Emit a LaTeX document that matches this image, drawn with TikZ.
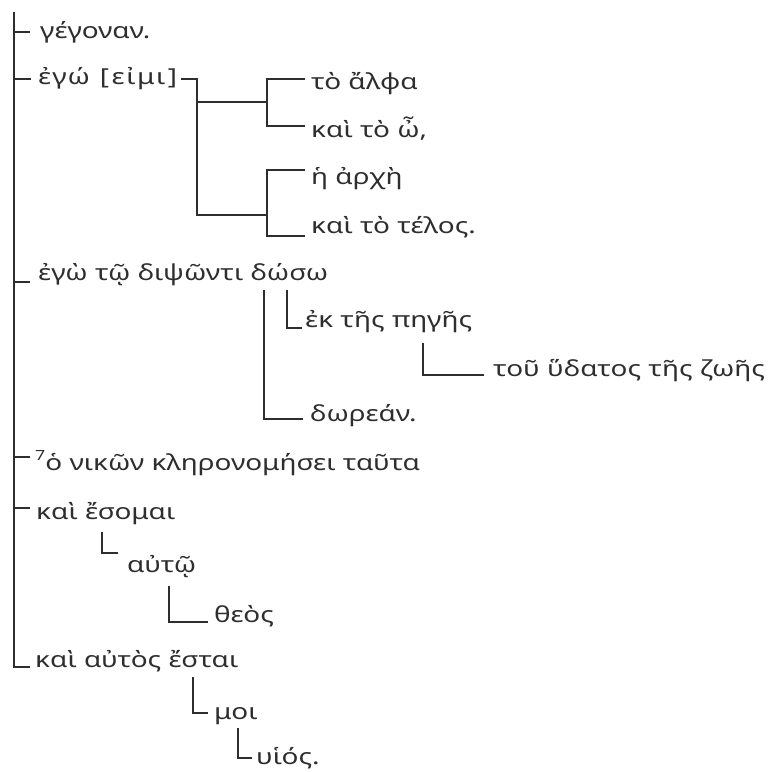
\documentclass[tikz,border=0pt]{standalone}
\usepackage{fontspec}
\newfontfamily\gk[FakeStretch=1.27]{Noto Sans}
\begin{document}
\begin{tikzpicture}[x=1pt,y=-1pt,
  lbl/.style={anchor=base west, inner sep=0pt, text=black!82, font=\gk\fontsize{22}{26}\selectfont},
  ln/.style={line width=1.3pt, draw=black!82}]
\useasboundingbox (0,0) rectangle (773,771);
% text nodes
\node[lbl] (t1) at (40,38) {γέγοναν.};
\node[lbl] (t2) at (38,84) {ἐ\kern1ptγ\kern1ptώ\hspace{0.45em}[\kern2.5ptε\kern1.5ptἰ\kern1.5ptμ\kern1.5ptι\kern2.5pt]};
\node[lbl] (t3) at (311,89) {τὸ ἄλφα};
\node[lbl] (t4) at (311,137) {καὶ τὸ ὦ,};
\node[lbl] (t5) at (311,184) {ἡ ἀρχὴ};
\node[lbl] (t6) at (311,233) {καὶ τὸ τέλος.};
\node[lbl] (t7) at (38,280) {ἐγὼ τῷ διψῶντι δώσω};
\node[lbl] (t8) at (305,327) {ἐκ τῆς πηγῆς};
\node[lbl] (t9) at (493,376) {τοῦ ὕδατος τῆς ζωῆς};
\node[lbl] (t10) at (310,421) {δωρεάν.};
\node[lbl] (t11) at (35,470) {\raisebox{0.42em}{\fontsize{14}{15}\selectfont 7}ὁ νικῶν κληρονομήσει ταῦτα};
\node[lbl] (t12) at (36,519) {καὶ ἔσομαι};
\node[lbl] (t13) at (127,572) {αὐτῷ};
\node[lbl] (t14) at (214,622) {θεὸς};
\node[lbl] (t15) at (35,667) {καὶ αὐτὸς ἔσται};
\node[lbl] (t16) at (214,719) {μοι};
\node[lbl] (t17) at (256,764) {υἱός.};
% coordinates
\coordinate (trT) at (14,12);
\coordinate (trB) at (14,667);
\coordinate (k1) at (30,32);
\coordinate (k2) at (31,79);
\coordinate (k7) at (30,282);
\coordinate (k11) at (30,457);
\coordinate (k12) at (30,508);
\coordinate (k15) at (30,667);
\coordinate (e0) at (181,79);
\coordinate (e1) at (197,79);
\coordinate (e2) at (197,215);
\coordinate (ea) at (267,102);
\coordinate (eb) at (267,215);
\coordinate (a1) at (267,79);
\coordinate (a2) at (267,126);
\coordinate (a1e) at (305,79);
\coordinate (a2e) at (305,126);
\coordinate (b1) at (267,170);
\coordinate (b2) at (267,236);
\coordinate (b1e) at (305,170);
\coordinate (b2e) at (305,236);
\coordinate (d1) at (264,290);
\coordinate (d2) at (264,419);
\coordinate (d2e) at (303,419);
\coordinate (p1) at (287,290);
\coordinate (p2) at (287,328);
\coordinate (p2e) at (302,328);
\coordinate (h1) at (423,343);
\coordinate (h2) at (423,375);
\coordinate (h2e) at (484,375);
\coordinate (u1) at (102,532);
\coordinate (u2) at (102,553);
\coordinate (u2e) at (118,553);
\coordinate (q1) at (169,586);
\coordinate (q2) at (169,622);
\coordinate (q2e) at (208,622);
\coordinate (m1) at (193,677);
\coordinate (m2) at (193,713);
\coordinate (m2e) at (208,713);
\coordinate (v1) at (238,728);
\coordinate (v2) at (238,758);
\coordinate (v2e) at (252,758);
% connectors
\draw[ln] (trT) -- (trB) -- (k15);
\draw[ln] (k1 -| trT) -- (k1);
\draw[ln] (k2 -| trT) -- (k2);
\draw[ln] (k7 -| trT) -- (k7);
\draw[ln] (k11 -| trT) -- (k11);
\draw[ln] (k12 -| trT) -- (k12);
\draw[ln] (e0) -- (e1) -- (e2) -- (eb);
\draw[ln] (ea -| e1) -- (ea);
\draw[ln] (a1e) -- (a1) -- (a2) -- (a2e);
\draw[ln] (b1e) -- (b1) -- (b2) -- (b2e);
\draw[ln] (d1) -- (d2) -- (d2e);
\draw[ln] (p1) -- (p2) -- (p2e);
\draw[ln] (h1) -- (h2) -- (h2e);
\draw[ln] (u1) -- (u2) -- (u2e);
\draw[ln] (q1) -- (q2) -- (q2e);
\draw[ln] (m1) -- (m2) -- (m2e);
\draw[ln] (v1) -- (v2) -- (v2e);
\end{tikzpicture}
\end{document}
